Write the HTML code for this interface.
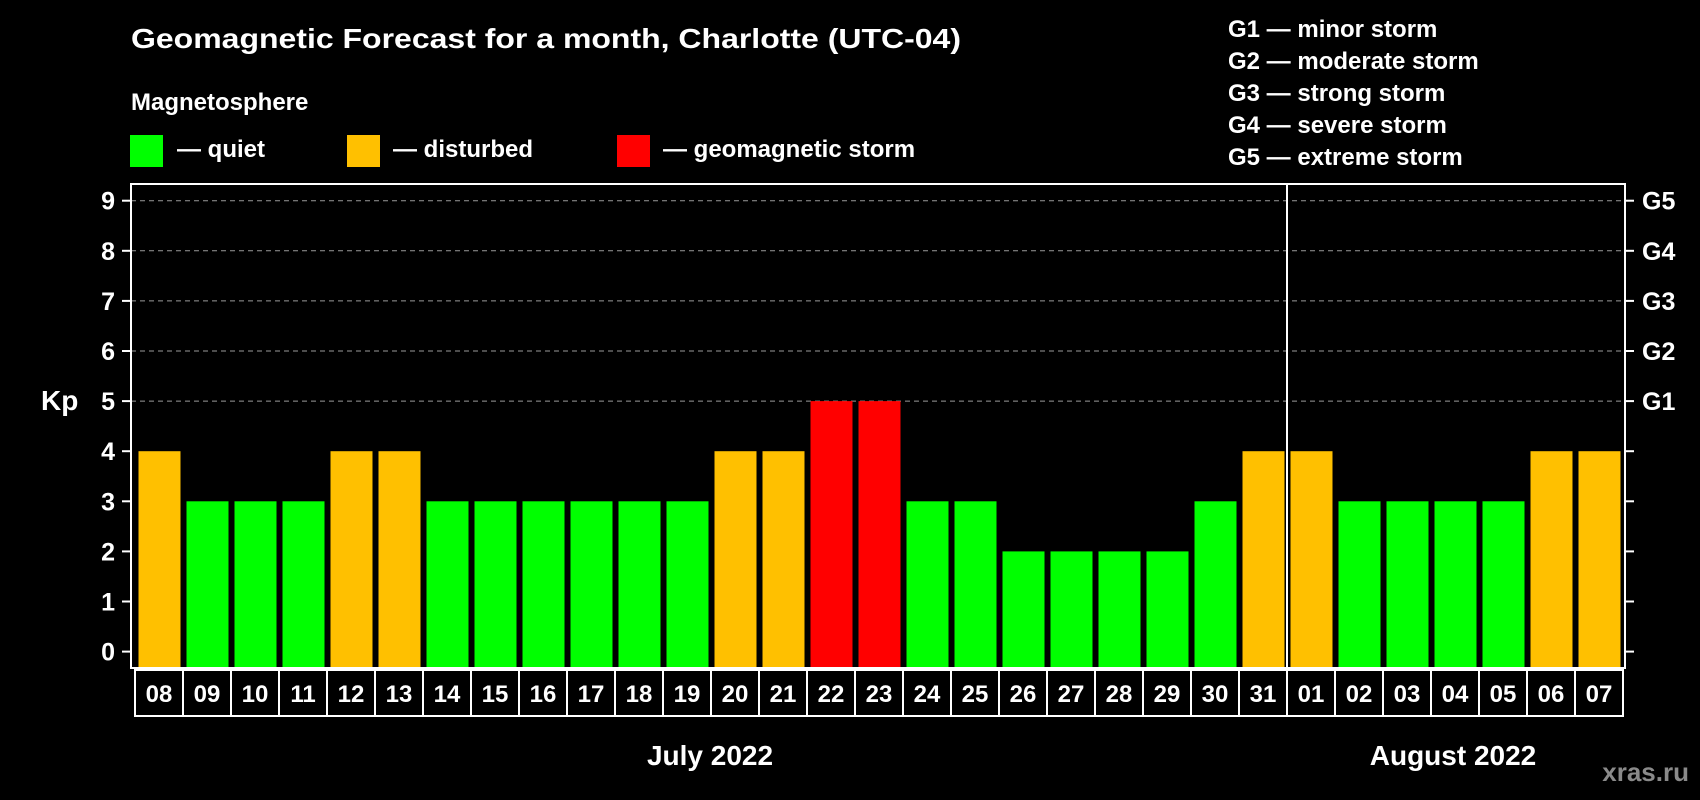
<!DOCTYPE html>
<html><head><meta charset="utf-8"><style>
html,body{margin:0;padding:0;background:#000;}
svg{display:block;font-family:"Liberation Sans",Arial,sans-serif;font-weight:bold;}
</style></head><body>
<svg id="chart" width="1700" height="800" viewBox="0 0 1700 800" xmlns="http://www.w3.org/2000/svg">
<rect x="0" y="0" width="1700" height="800" fill="#000"/>
<text x="131" y="48" font-size="28" fill="#fff" textLength="830" lengthAdjust="spacingAndGlyphs">Geomagnetic Forecast for a month, Charlotte (UTC-04)</text>
<text x="131" y="110" font-size="24" fill="#fff">Magnetosphere</text>
<g>
<rect x="130" y="135" width="33" height="32" fill="#00ff00"/>
<text x="177" y="157" font-size="24" fill="#fff">— quiet</text></g>
<g>
<rect x="347" y="135" width="33" height="32" fill="#ffc000"/>
<text x="393" y="157" font-size="24" fill="#fff">— disturbed</text></g>
<g>
<rect x="617" y="135" width="33" height="32" fill="#ff0000"/>
<text x="663" y="157" font-size="24" fill="#fff">— geomagnetic storm</text></g>
<g font-size="24" fill="#fff">
<text x="1228" y="37">G1 — minor storm</text>
<text x="1228" y="69">G2 — moderate storm</text>
<text x="1228" y="101">G3 — strong storm</text>
<text x="1228" y="133">G4 — severe storm</text>
<text x="1228" y="165">G5 — extreme storm</text>
</g>
<text x="41" y="410" font-size="28" fill="#fff">Kp</text>
<g id="grid"></g>
<g id="bars"></g>
<g id="axes"></g>
<text x="710" y="765" font-size="28" fill="#fff" text-anchor="middle">July 2022</text>
<text x="1453" y="765" font-size="28" fill="#fff" text-anchor="middle">August 2022</text>
<text x="1689" y="781" font-size="26" fill="#8a8a8a" text-anchor="end">xras.ru</text>
</svg>
<script>
const days = ["08","09","10","11","12","13","14","15","16","17","18","19","20","21","22","23","24","25","26","27","28","29","30","31","01","02","03","04","05","06","07"];
const kpValues = [4,3,3,3,4,4,3,3,3,3,3,3,4,4,5,5,3,3,2,2,2,2,3,4,4,3,3,3,3,4,4];
const yTicks = [0,1,2,3,4,5,6,7,8,9];
const gLabels = ["","","","","","G1","G2","G3","G4","G5"];
const monthBreakIndex = 24;

const NS = "http://www.w3.org/2000/svg";
const plotL = 131, plotR = 1625, plotT = 184, plotB = 668;
const y0 = 651.6, unit = 50.1;
const cellL = 135, pitch = 48, barW = 42;
function yScale(v){ return y0 - v*unit; }
function xCell(i){ return cellL + i*pitch; }
function mk(tag, attrs, parent){
  const e = document.createElementNS(NS, tag);
  for (const k in attrs) e.setAttribute(k, attrs[k]);
  parent.appendChild(e); return e;
}
function colorFor(v){ return v >= 5 ? "#ff0000" : (v >= 4 ? "#ffc000" : "#00ff00"); }

const grid = document.getElementById("grid");
const bars = document.getElementById("bars");
const axes = document.getElementById("axes");

yTicks.forEach((t, i) => {
  const y = yScale(t);
  if (t >= 5) {
    const g = mk("line", {x1: plotL, x2: plotR, y1: y, y2: y, stroke: "#9a9a9a", "stroke-width": 1, "stroke-dasharray": "5,4"}, grid);
    
    
  }
  const tl = mk("line", {x1: plotL - 9, x2: plotL, y1: y, y2: y, stroke: "#fff", "stroke-width": 2}, axes);
  
  
  const tr = mk("line", {x1: plotR, x2: plotR + 9, y1: y, y2: y, stroke: "#fff", "stroke-width": 2}, axes);
  
  
  const lab = mk("text", {x: 115, y: y + 9, "font-size": 25, fill: "#fff", "text-anchor": "end"}, axes);
  lab.textContent = t;
  
  
  if (gLabels[i]) {
    const gl = mk("text", {x: 1642, y: y + 9, "font-size": 25, fill: "#fff"}, axes);
    gl.textContent = gLabels[i];
    
    
  }
});

kpValues.forEach((v, i) => {
  const x = xCell(i) + 3.5;
  const r = mk("rect", {x: x, y: yScale(v), width: barW, height: plotB - yScale(v), fill: colorFor(v)}, bars);
  
  
});

const frame = mk("rect", {x: plotL, y: plotT, width: plotR - plotL, height: plotB - plotT, fill: "none", stroke: "#fff", "stroke-width": 2}, axes);


const div = mk("line", {x1: xCell(monthBreakIndex), x2: xCell(monthBreakIndex), y1: plotT, y2: plotB, stroke: "#fff", "stroke-width": 2}, axes);



const rowT = 670, rowB = 716;
const row = mk("rect", {x: cellL, y: rowT, width: pitch * days.length, height: rowB - rowT, fill: "none", stroke: "#fff", "stroke-width": 2}, axes);


days.forEach((d, i) => {
  if (i > 0) {
    const s = mk("line", {x1: xCell(i), x2: xCell(i), y1: rowT, y2: rowB, stroke: "#fff", "stroke-width": 2}, axes);
    
    
  }
  const t = mk("text", {x: xCell(i) + pitch/2, y: 702, "font-size": 24, fill: "#fff", "text-anchor": "middle"}, axes);
  t.textContent = d;
  
  
});
</script>
</body></html>
